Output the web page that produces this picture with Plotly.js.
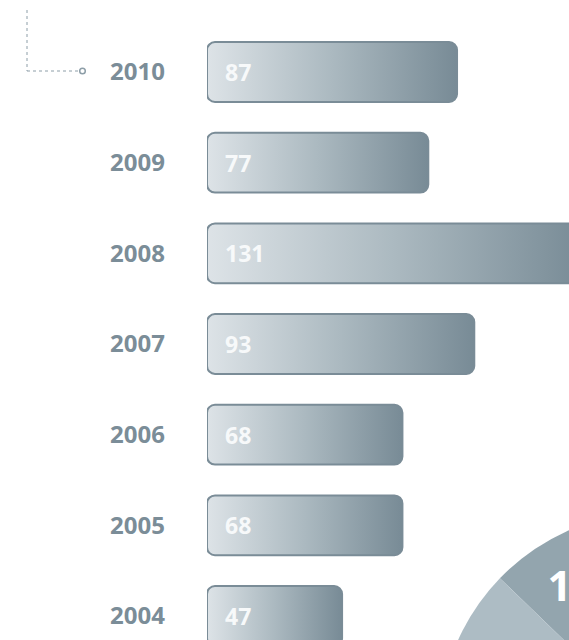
<!DOCTYPE html>
<html>
<head>
<meta charset="utf-8">
<script src="https://cdn.plot.ly/plotly-3.0.1.min.js"></script>
<style>
html,body{margin:0;padding:0;background:#fff;overflow:hidden;}
#wrap{position:relative;width:569px;height:640px;overflow:hidden;}
#chart{position:absolute;left:0;top:0;width:880px;height:950px;}
</style>
</head>
<body>
<div id="wrap"><div id="chart"></div></div>
<script>
// ---- data ----
const years = ['2004', '2005', '2006', '2007', '2008', '2009', '2010'];
const counts = [47, 68, 68, 93, 131, 77, 87];
const pieLabels = ['A', 'B', 'C'];
const pieValues = [12, 50, 38];
const pieText = ['12%', '', ''];
const pieColors = ['#93a5ae', '#c3ced4', '#adbcc4'];

const W = 880, H = 950;
const barColor = '#7a8c97';

const bars = {
  type: 'bar', orientation: 'h',
  y: years, x: counts,
  marker: {color: '#b0bec5', line: {color: barColor, width: 2}},
  hoverinfo: 'none', textposition: 'none'
};
const pie = {
  type: 'pie', labels: pieLabels, values: pieValues, text: pieText,
  textinfo: 'text', textposition: 'inside', insidetextorientation: 'horizontal',
  insidetextfont: {family: 'Open Sans', size: 42, color: '#ffffff', weight: 700},
  marker: {colors: pieColors, line: {width: 0}},
  sort: false, direction: 'clockwise', rotation: -46,
  domain: {x: [439 / W, 873 / W], y: [1 - 946 / H, 1 - 512 / H]},
  hoverinfo: 'none', showlegend: false
};

const annotations = years.map((yv, i) => ({
  x: 0, y: i, xref: 'x', yref: 'y', text: String(counts[i]),
  showarrow: false, xanchor: 'left', yanchor: 'middle', xshift: 16,
  font: {family: 'Open Sans', size: 23, color: '#f7f9fa', weight: 700}
}));

const dotColor = '#8d9ea8';
const px = v => v / W, py = v => 1 - v / H;
const shapes = [
  {type: 'line', xref: 'paper', yref: 'paper', x0: px(27), x1: px(27), y0: py(10), y1: py(71),
   line: {color: dotColor, width: 1, dash: 'dot'}},
  {type: 'line', xref: 'paper', yref: 'paper', x0: px(27), x1: px(79.5), y0: py(71), y1: py(71),
   line: {color: dotColor, width: 1, dash: 'dot'}},
  {type: 'circle', xref: 'paper', yref: 'paper', x0: px(79.7), x1: px(85.3), y0: py(68.2), y1: py(73.8),
   line: {color: dotColor, width: 1.5}, fillcolor: '#ffffff'}
];

const layout = {
  width: W, height: H,
  margin: {l: 0, r: 0, t: 0, b: 0},
  paper_bgcolor: '#ffffff', plot_bgcolor: 'rgba(0,0,0,0)',
  showlegend: false,
  bargap: 0.34,
  xaxis: {domain: [207 / W, 1], range: [0, (W - 207) / 2.874], visible: false, fixedrange: true},
  yaxis: {type: 'category', domain: [1 - 661.3 / H, 1 - 26.7 / H], range: [-0.5, 6.5],
    showgrid: false, zeroline: false, showline: false, ticks: '',
    ticklabelstandoff: 41,
    tickfont: {family: 'Open Sans', size: 24, color: '#7b8d98', weight: 700}},
  annotations: annotations,
  shapes: shapes
};

Plotly.newPlot('chart', [bars, pie], layout, {staticPlot: true, displayModeBar: false}).then(gd => {
  const svg = gd.querySelector('.main-svg');
  let defs = svg.querySelector('defs');
  const ns = 'http://www.w3.org/2000/svg';
  if (!defs) { defs = document.createElementNS(ns, 'defs'); svg.insertBefore(defs, svg.firstChild); }
  const g = document.createElementNS(ns, 'linearGradient');
  g.setAttribute('id', 'barGrad');
  g.setAttribute('x1', '0'); g.setAttribute('y1', '0'); g.setAttribute('x2', '1'); g.setAttribute('y2', '0');
  [['0', '#dde3e7'], ['0.5', '#abb9c0'], ['1', '#788b96']].forEach(([o, c]) => {
    const s = document.createElementNS(ns, 'stop');
    s.setAttribute('offset', o); s.setAttribute('stop-color', c);
    g.appendChild(s);
  });
  defs.appendChild(g);
  const r = 8;
  gd.querySelectorAll('.barlayer .point path').forEach(p => {
    const b = p.getBBox();
    const x0 = b.x, y0 = b.y, x1 = b.x + b.width, y1 = b.y + b.height;
    const d = `M${x0 + r},${y0}H${x1 - r}A${r},${r} 0 0 1 ${x1},${y0 + r}V${y1 - r}A${r},${r} 0 0 1 ${x1 - r},${y1}` +
              `H${x0 + r}A${r},${r} 0 0 1 ${x0},${y1 - r}V${y0 + r}A${r},${r} 0 0 1 ${x0 + r},${y0}Z`;
    p.setAttribute('d', d);
    p.style.fill = 'url(#barGrad)';
    p.style.fillOpacity = 1;
  });
});
</script>
</body>
</html>
